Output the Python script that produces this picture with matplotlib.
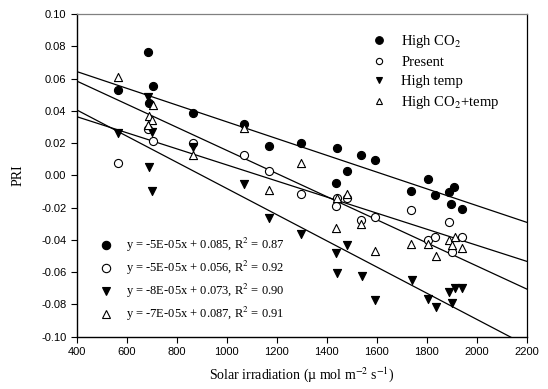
import matplotlib
matplotlib.use("Agg")
import matplotlib.pyplot as plt
from matplotlib.lines import Line2D
import numpy as np

plt.rcParams['mathtext.fontset'] = 'stix'

# ---- data ----
co2_x = [566, 684, 705, 689, 865, 1070, 1170, 1296, 1440, 1537, 1593, 1480, 1437, 1806, 1737, 1833, 1910, 1890, 1897, 1942]
co2_y = [0.0530, 0.0763, 0.0556, 0.0447, 0.0385, 0.0319, 0.0183, 0.0203, 0.0169, 0.0127, 0.0096, 0.0028, -0.0046, -0.0021, -0.0100, -0.0120, -0.0073, -0.0106, -0.0178, -0.0209]

pres_x = [566, 684, 705, 866, 1070, 1170, 1296, 1440, 1437, 1482, 1537, 1593, 1737, 1806, 1833, 1890, 1900, 1942]
pres_y = [0.0076, 0.0285, 0.0216, 0.0200, 0.0127, 0.0028, -0.0117, -0.0141, -0.0191, -0.0141, -0.0275, -0.0261, -0.0213, -0.0403, -0.0382, -0.0286, -0.0478, -0.0382]

temp_x = [566, 686, 702, 866, 690, 700, 1070, 1170, 1296, 1437, 1482, 1440, 1540, 1593, 1740, 1806, 1837, 1890, 1913, 1942, 1900]
temp_y = [0.0265, 0.0484, 0.0271, 0.0175, 0.0049, -0.0100, -0.0052, -0.0265, -0.0364, -0.0484, -0.0430, -0.0605, -0.0626, -0.0770, -0.0651, -0.0766, -0.0818, -0.0723, -0.0698, -0.0698, -0.0791]

both_x = [566, 706, 689, 700, 684, 866, 1070, 1170, 1296, 1440, 1482, 1537, 1437, 1593, 1737, 1806, 1836, 1890, 1913, 1900, 1942]
both_y = [0.0608, 0.0437, 0.0369, 0.0340, 0.0313, 0.0127, 0.0292, -0.0089, 0.0076, -0.0141, -0.0114, -0.0302, -0.0327, -0.0471, -0.0426, -0.0426, -0.0500, -0.0400, -0.0379, -0.0430, -0.0450]

# regression lines (slope, intercept) as drawn
fit_slopes = [-5.19e-5, -4.98e-5, -8.11e-5, -7.16e-5]
fit_intercepts = [0.0851, 0.0563, 0.0730, 0.0871]

series_names = ['High CO$_2$', 'Present', 'High temp', 'High CO$_2$+temp']
equations = ['y = -5E-05x + 0.085, R$^2$ = 0.87',
             'y = -5E-05x + 0.056, R$^2$ = 0.92',
             'y = -8E-05x + 0.073, R$^2$ = 0.90',
             'y = -7E-05x + 0.087, R$^2$ = 0.91']

xticks = list(range(400, 2201, 200))
yticks = [round(v, 2) for v in np.arange(-0.10, 0.101, 0.02)]

# ---- plot ----
fig = plt.figure(figsize=(5.48, 3.89), dpi=100)
ax = fig.add_axes([0.140, 0.1344, 0.821, 0.8296])

styles = [dict(marker='o', facecolor='black', edgecolor='black'),
          dict(marker='o', facecolor='white', edgecolor='black'),
          dict(marker='v', facecolor='black', edgecolor='black'),
          dict(marker='^', facecolor='white', edgecolor='black')]
data = [(co2_x, co2_y), (pres_x, pres_y), (temp_x, temp_y), (both_x, both_y)]

xl = np.array([400, 2200])
for s, b in zip(fit_slopes, fit_intercepts):
    ax.plot(xl, s * xl + b, color='black', lw=0.9, zorder=1)

for (xs, ys), st in zip(data, styles):
    ax.scatter(xs, ys, s=34, marker=st['marker'], facecolors=st['facecolor'],
               edgecolors=st['edgecolor'], linewidths=0.8, zorder=3)

ax.set_xlim(400, 2200)
ax.set_ylim(-0.10, 0.10)
ax.set_xticks(xticks)
ax.set_yticks(yticks)
ax.set_xticklabels([str(v) for v in xticks], fontsize=8, family='Liberation Sans')
ax.set_yticklabels(['%.2f' % v for v in yticks], fontsize=8, family='Liberation Sans')
ax.tick_params(direction='out', length=4, width=0.8, top=False, right=False)

for side in ['left', 'bottom']:
    ax.spines[side].set_linewidth(1.0)
ax.spines['top'].set_color('#808080')
ax.spines['top'].set_linewidth(0.9)
ax.spines['right'].set_linewidth(0.9)

ax.set_xlabel('Solar irradiation (\u00b5 mol m$^{-2}$ s$^{-1}$)', fontsize=10, family='Liberation Serif', labelpad=6)
ax.set_ylabel('PRI', fontsize=10, family='Liberation Serif', labelpad=12)

def handle(st, ms):
    return Line2D([], [], linestyle='none', marker=st['marker'], markerfacecolor=st['facecolor'],
                  markeredgecolor=st['edgecolor'], markersize=ms, markeredgewidth=0.8)

h1 = [handle(styles[0], 5.5), handle(styles[1], 4.5), handle(styles[2], 4.5), handle(styles[3], 4.5)]
leg1 = ax.legend(h1, series_names, loc='upper left', bbox_to_anchor=(0.647, 0.94),
                 frameon=False, borderpad=0, borderaxespad=0, handlelength=1.5,
                 handletextpad=0.8, labelspacing=0.4,
                 prop={'family': 'Liberation Serif', 'size': 10.5})
ax.add_artist(leg1)

h2 = [handle(st, 6) for st in styles]
leg2 = ax.legend(h2, equations, loc='upper left', bbox_to_anchor=(0.045, 0.312),
                 frameon=False, borderpad=0, borderaxespad=0, handlelength=1.5,
                 handletextpad=0.8, labelspacing=0.4,
                 prop={'family': 'Liberation Serif', 'size': 9})

fig.savefig('out.png', dpi=100)
